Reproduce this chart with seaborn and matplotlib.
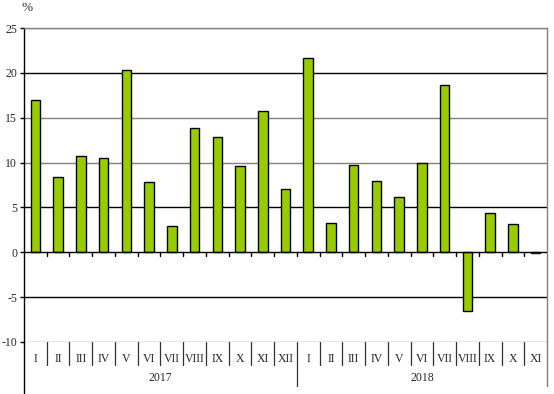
import numpy as np
import pandas as pd
import matplotlib
matplotlib.use('Agg')
import matplotlib.pyplot as plt
import seaborn as sns

# Data
months_2017 = ['I', 'II', 'III', 'IV', 'V', 'VI', 'VII', 'VIII', 'IX', 'X', 'XI', 'XII']
months_2018 = ['I', 'II', 'III', 'IV', 'V', 'VI', 'VII', 'VIII', 'IX', 'X', 'XI']
values_2017 = [17.0, 8.4, 10.7, 10.5, 20.3, 7.8, 2.9, 13.9, 12.8, 9.6, 15.7, 7.1]
values_2018 = [21.7, 3.3, 9.7, 8.0, 6.2, 10.0, 18.6, -6.5, 4.4, 3.1, -0.1]
years = ['2017', '2018']

months = months_2017 + months_2018
keys = [f'2017-{m}' for m in months_2017] + [f'2018-{m}' for m in months_2018]
df = pd.DataFrame({'key': keys, 'value': values_2017 + values_2018})

sns.set_style('white')
plt.rcParams['font.family'] = ['Liberation Serif', 'DejaVu Serif']

W, H = 554, 394
fig = plt.figure(figsize=(W / 100, H / 100), dpi=100)
left, right, top, bottom = 24, 547, 28, 342
ax = fig.add_axes([left / W, 1 - bottom / H, (right - left) / W, (bottom - top) / H])

# gridlines
for yv in [25, 15, 10]:
    ax.axhline(yv, color='#808080', lw=1, zorder=0)
for yv in [20, 5, -5]:
    ax.axhline(yv, color='black', lw=1, zorder=0)

sns.barplot(data=df, x='key', y='value', order=keys, color='#99cc00',
            edgecolor='black', linewidth=1, width=0.42, saturation=1, ax=ax, zorder=2)

n = len(keys)
ax.set_xlim(-0.5, n - 0.5)
ax.set_ylim(-10, 25)
ax.set_yticks(np.arange(-10, 26, 5))
ax.set_yticklabels([str(v) for v in range(-10, 26, 5)], fontsize=8.5)
ax.tick_params(axis='y', length=3, width=1, color='black', pad=2, left=True)

ax.axhline(0, color='black', lw=1, zorder=3)
for i in range(n - 1):
    ax.plot([i + 0.5, i + 0.5], [0, -0.4], color='black', lw=1, zorder=3)

for s in ['top', 'right']:
    ax.spines[s].set_color('#808080')
    ax.spines[s].set_linewidth(1)
ax.spines['left'].set_color('black')
ax.spines['left'].set_linewidth(1)
ax.spines['bottom'].set_visible(False)
ax.axhline(-10, color='#808080', lw=1, zorder=1)

ax.set_xticks(range(n))
ax.set_xticklabels(months, fontsize=8.5)
ax.tick_params(axis='x', length=0, pad=8)
ax.set_xlabel('')
ax.set_ylabel('')

# category separators below the plot
tr = ax.get_xaxis_transform()
ph = bottom - top
short = -(365 - bottom) / ph
long_ = -(386 - bottom) / ph
for i in range(n - 1):
    yb = long_ if i == 11 else short
    ax.plot([i + 0.5, i + 0.5], [0, yb], color='#303030', lw=0.9, transform=tr, clip_on=False)
ax.plot([-0.5, -0.5], [0, -(393 - bottom) / ph], color='black', lw=1, transform=tr, clip_on=False)
ax.plot([n - 0.5, n - 0.5], [0, long_], color='#808080', lw=1, transform=tr, clip_on=False)

ax.text(5.5, -(378 - bottom) / ph, years[0], transform=tr, ha='center', va='center', fontsize=8.5)
ax.text(17.0, -(378 - bottom) / ph, years[1], transform=tr, ha='center', va='center', fontsize=8.5)

fig.text(21 / W, 1 - 8 / H, '%', ha='left', va='center', fontsize=9.5)

fig.savefig('out.png', dpi=100)
